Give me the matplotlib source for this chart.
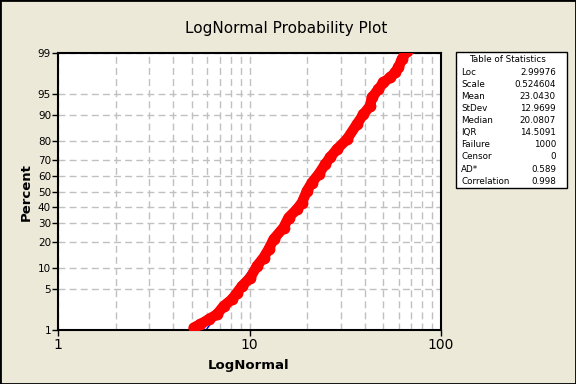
import matplotlib
matplotlib.use('Agg')
import matplotlib.pyplot as plt
import matplotlib.patches as patches
from matplotlib.ticker import FixedLocator, NullFormatter
from statistics import NormalDist

plt.rcParams['font.family'] = ['DejaVu Sans']

# punts llegits de la corba (percentatge, valor)
pct = [1.11, 1.29, 1.59, 1.96, 2.72, 3.51, 4.48, 5.63, 7.42, 10.56, 13.37,
       16.60, 21.13, 27.26, 33.11, 38.32, 42.66, 50.4, 56.0, 61.4, 67.7,
       71.8, 76.1, 81.0, 87.1, 90.3, 92.5, 94.3, 95.7, 96.65, 97.23, 97.72,
       98.14, 98.69, 99.09, 99.34]
val = [5.11, 5.54, 6.12, 6.77, 7.33, 8.10, 8.61, 9.14, 10.10, 10.94, 11.85,
       12.58, 13.36, 15.06, 16.00, 17.69, 18.79, 19.95, 21.18, 22.94, 24.86,
       26.40, 28.61, 32.26, 36.37, 39.38, 42.68, 43.55, 47.16, 50.06, 54.27,
       57.63, 59.96, 62.45, 66.30, 69.0]

# recta d'ajust
fit_pct = [1, 99]
fit_val = [5.93, 68.2]

y_ticks = [1, 5, 10, 20, 30, 40, 50, 60, 70, 80, 90, 95, 99]
x_ticks = [1, 10, 100]
x_minor = [2, 3, 4, 5, 6, 7, 8, 9, 20, 30, 40, 50, 60, 70, 80, 90]

stat_names = ['Loc', 'Scale', 'Mean', 'StDev', 'Median', 'IQR', 'Failure',
              'Censor', 'AD*', 'Correlation']
stat_values = ['2.99976', '0.524604', '23.0430', '12.9699', '20.0807',
               '14.5091', '1000', '0', '0.589', '0.998']

nd = NormalDist()
def z(p):
    return nd.inv_cdf(p / 100.0)

W, H = 576, 384
fig = plt.figure(figsize=(W / 100, H / 100), dpi=100, facecolor='#ECE9D8')
ax = fig.add_axes([58 / W, 1 - 330 / H, (441 - 58) / W, (330 - 53) / H])

ax.plot(fit_val, [z(p) for p in fit_pct], color='blue', lw=1, zorder=2)
ax.plot(val, [z(p) for p in pct], color='red', lw=7.5, marker='o', ms=7.5,
        solid_capstyle='round', solid_joinstyle='round', zorder=3)

ax.set_xscale('log')
ax.set_xlim(1, 100)
ax.set_ylim(z(1), z(99))

ax.xaxis.set_major_locator(FixedLocator(x_ticks))
ax.xaxis.set_minor_locator(FixedLocator(x_minor))
ax.xaxis.set_minor_formatter(NullFormatter())
ax.set_xticklabels([str(t) for t in x_ticks])
ax.set_yticks([z(p) for p in y_ticks])
ax.set_yticklabels([str(p) for p in y_ticks])

ax.grid(True, which='both', color='#c0c0c0', linestyle=(0, (5, 3)), lw=1)
ax.set_axisbelow(True)
ax.tick_params(which='major', direction='out', length=4, width=1)
ax.tick_params(which='minor', length=0)
ax.tick_params(axis='y', labelsize=7.5, pad=1)
ax.tick_params(axis='x', labelsize=10, pad=2)
for s in ax.spines.values():
    s.set_linewidth(1.5)

fig.text(286 / W, 1 - 28 / H, 'LogNormal Probability Plot', ha='center',
         va='center', fontsize=11)
fig.text(249 / W, 1 - 365 / H, 'LogNormal', ha='center', va='center',
         fontsize=9.5, fontweight='bold')
fig.text(26 / W, 1 - 192 / H, 'Percent', ha='center', va='center',
         rotation=90, fontsize=9.5, fontweight='bold')

# taula d'estadístics
fig.add_artist(patches.Rectangle((456 / W, 1 - 188 / H), 111 / W, 136 / H,
                                 transform=fig.transFigure, facecolor='white',
                                 edgecolor='black', lw=1))
fig.text(507 / W, 1 - 60 / H, 'Table of Statistics', ha='center', va='center',
         fontsize=6.3)
for i, (n, v) in enumerate(zip(stat_names, stat_values)):
    yy = 1 - (72.2 + 12.1 * i) / H
    fig.text(461 / W, yy, n, ha='left', va='center', fontsize=6.3)
    fig.text(556 / W, yy, v, ha='right', va='center', fontsize=6.3)

fig.add_artist(patches.Rectangle((0, 0), 1, 1, transform=fig.transFigure,
                                 fill=False, edgecolor='black', lw=2))

fig.savefig('out.png', dpi=100, facecolor=fig.get_facecolor())
